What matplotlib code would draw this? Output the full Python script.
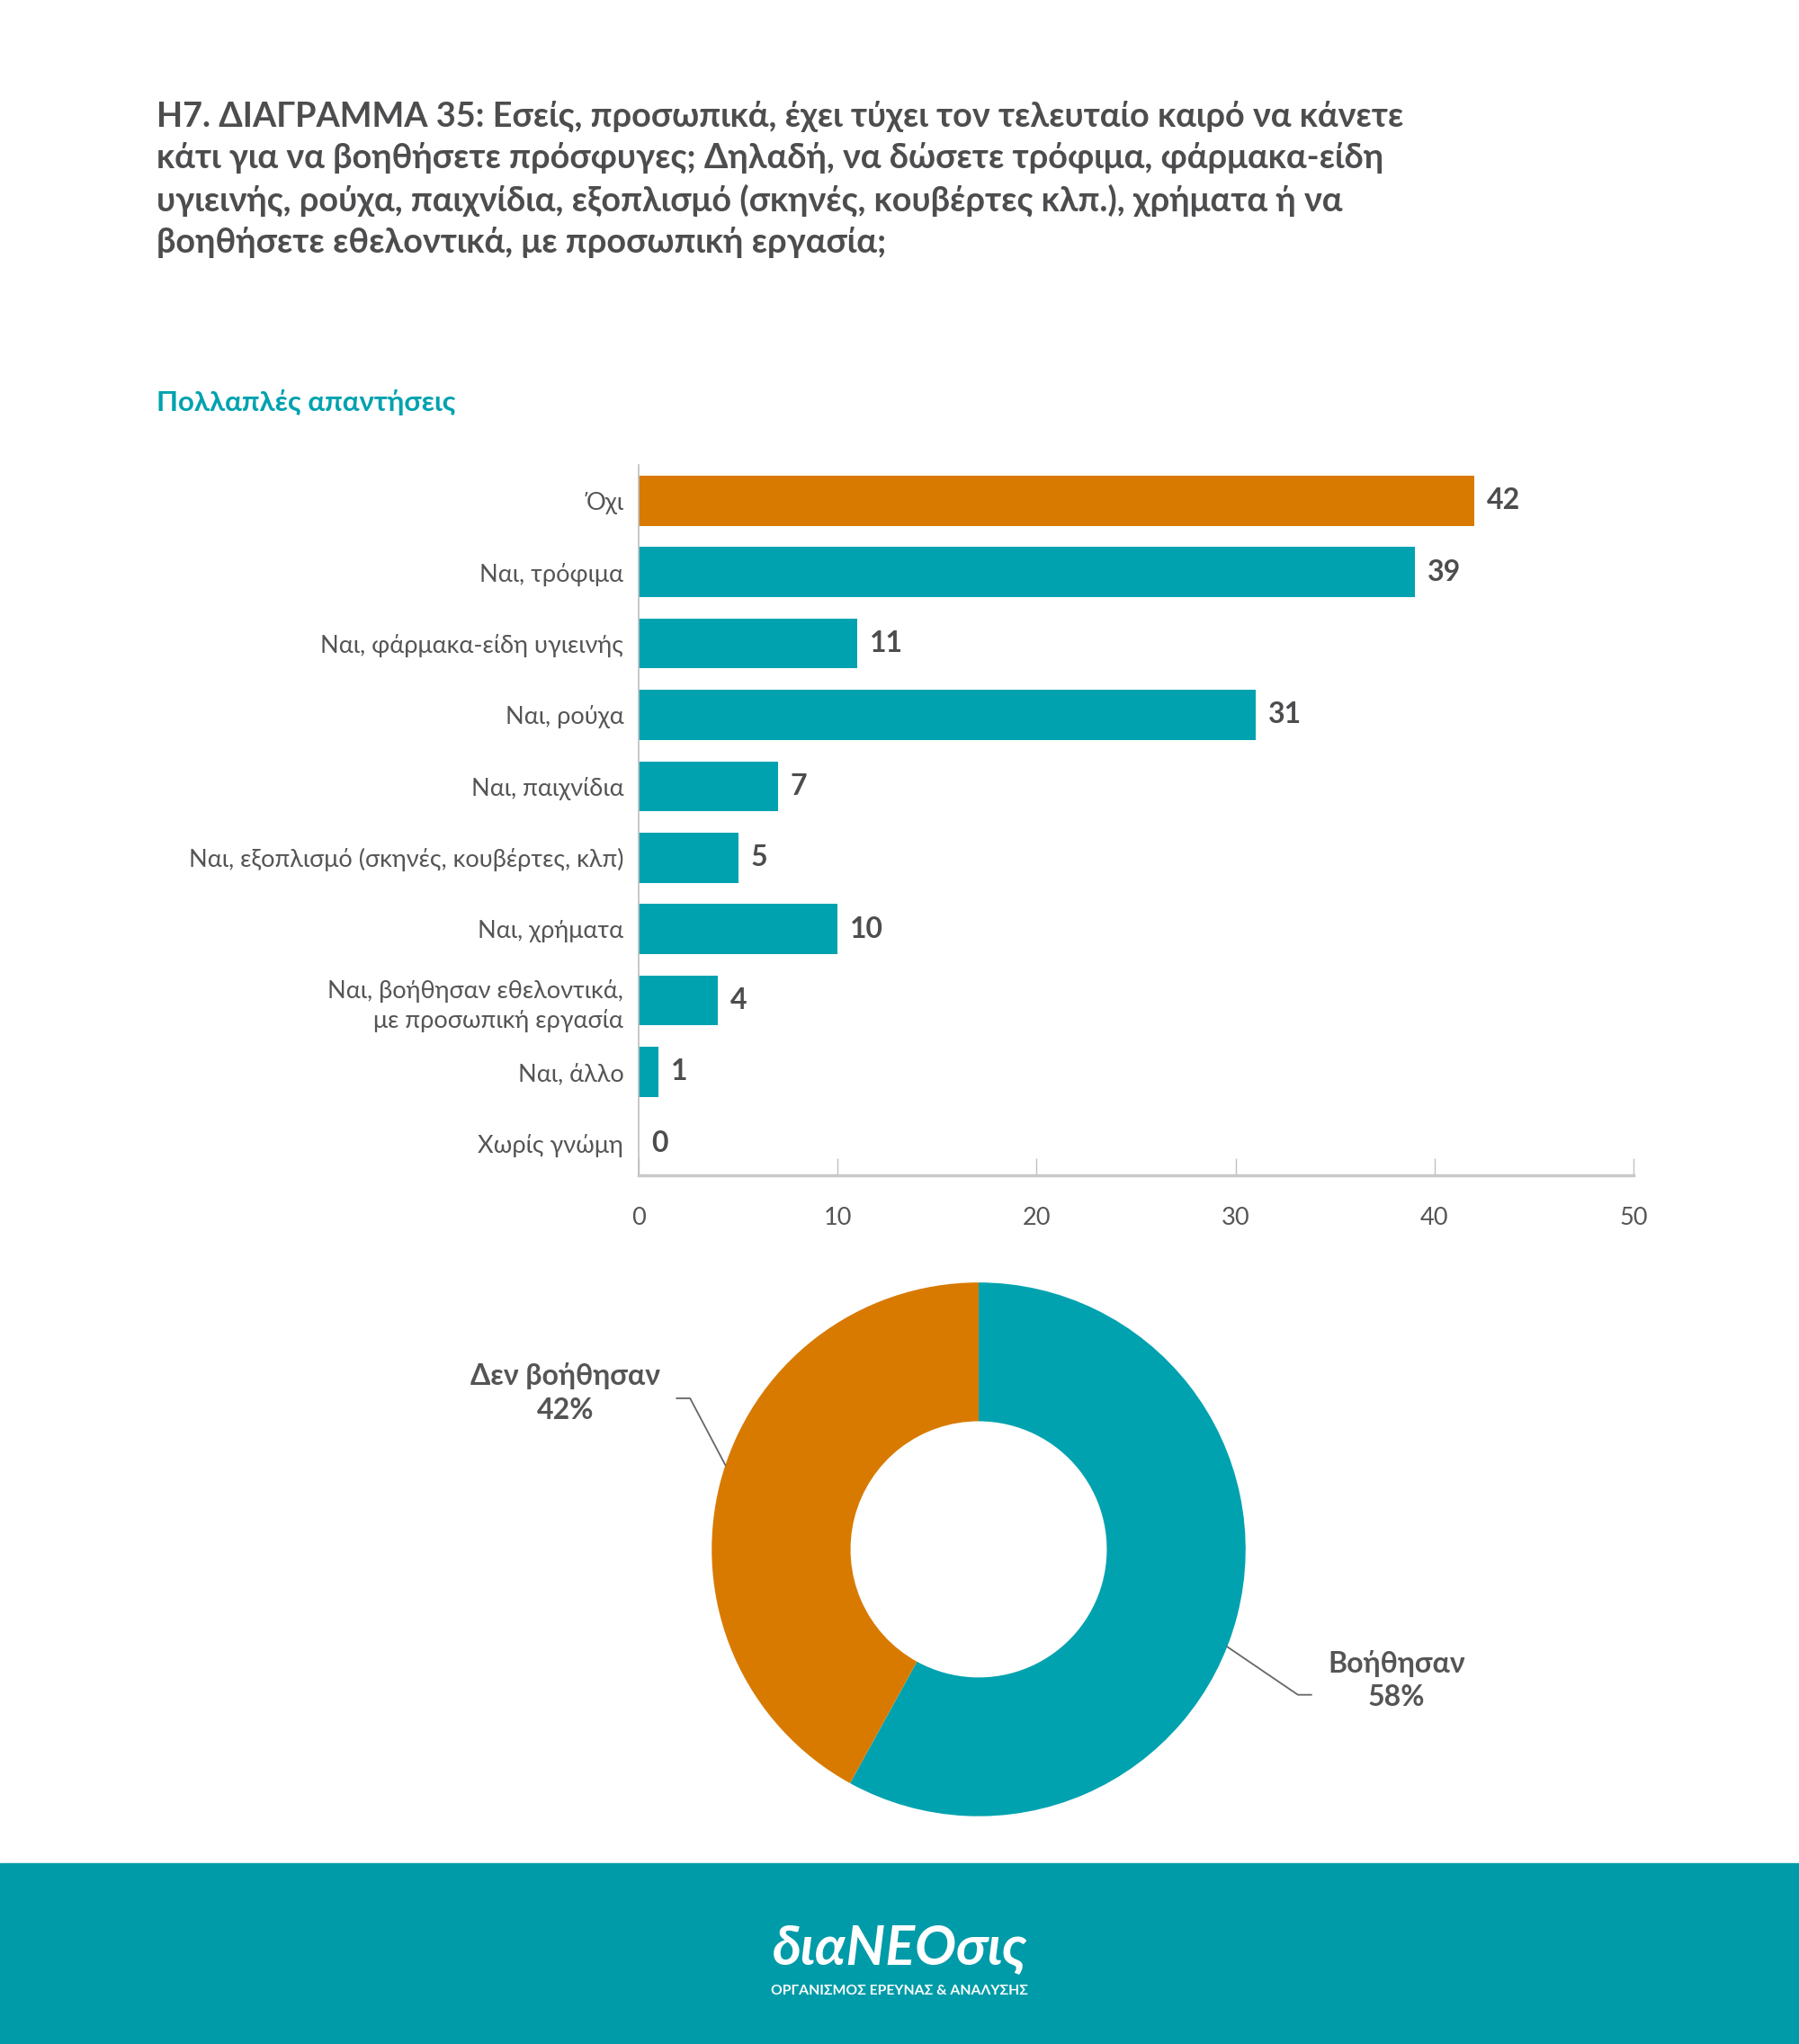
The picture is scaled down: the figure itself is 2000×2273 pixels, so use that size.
import matplotlib
matplotlib.use("Agg")
import matplotlib.pyplot as plt
import numpy as np

FONT = ["Lato", "DejaVu Sans"]
plt.rcParams["font.family"] = FONT

# Data
categories = ["Όχι", "Ναι, τρόφιμα", "Ναι, φάρμακα-είδη υγιεινής", "Ναι, ρούχα",
              "Ναι, παιχνίδια", "Ναι, εξοπλισμό (σκηνές, κουβέρτες, κλπ)",
              "Ναι, χρήματα", "Ναι, βοήθησαν εθελοντικά,\nμε προσωπική εργασία",
              "Ναι, άλλο", "Χωρίς γνώμη"]
values = [42, 39, 11, 31, 7, 5, 10, 4, 1, 0]
x_ticks = [0, 10, 20, 30, 40, 50]

donut_labels = ["Βοήθησαν", "Δεν βοήθησαν"]
donut_values = [58, 42]

title = ("Η7. ΔΙΑΓΡΑΜΜΑ 35: Εσείς, προσωπικά, έχει τύχει τον τελευταίο καιρό να κάνετε\n"
         "κάτι για να βοηθήσετε πρόσφυγες; Δηλαδή, να δώσετε τρόφιμα, φάρμακα-είδη\n"
         "υγιεινής, ρούχα, παιχνίδια, εξοπλισμό (σκηνές, κουβέρτες κλπ.), χρήματα ή να\n"
         "βοηθήσετε εθελοντικά, με προσωπική εργασία;")
subtitle = "Πολλαπλές απαντήσεις"

ORANGE = "#D87A00"
TEAL = "#00A2AF"
FOOTER = "#009BA8"
DARK = "#4d4d4f"
GREY = "#555555"

fig = plt.figure(figsize=(20, 22.73), dpi=100)

# title + subtitle
fig.text(0.087, 0.951, title, ha="left", va="top", fontsize=27.3, fontweight="bold",
         color=DARK, linespacing=1.38)
fig.text(0.087, 0.803, subtitle, ha="left", va="center", fontsize=22.5,
         fontweight="bold", color=TEAL)

# bar chart
ax = fig.add_axes([0.355, 0.425, 0.553, 0.3475])
y = np.arange(len(categories))
colors = [ORANGE] + [TEAL] * (len(categories) - 1)
ax.barh(y, values, height=0.7, color=colors)
for yi, v in zip(y, values):
    ax.annotate(str(v), (v, yi), xytext=(10, 0), textcoords="offset points",
                ha="left", va="center", fontsize=23, fontweight="bold", color=DARK)
ax.set_yticks(y)
ax.set_yticklabels(categories, fontsize=19.5, color=GREY, linespacing=1.35)
ax.set_xticks(x_ticks)
ax.set_xticklabels([str(t) for t in x_ticks], fontsize=19.5, color=GREY)
ax.set_xlim(0, 50)
ax.set_ylim(9.45, -0.5)
ax.tick_params(axis="y", length=0, pad=12)
ax.tick_params(axis="x", direction="in", length=14, width=1, color="#c0c0c0", pad=25)
for s in ["top", "right"]:
    ax.spines[s].set_visible(False)
ax.spines["left"].set_color("#bfbfbf")
ax.spines["left"].set_linewidth(1.2)
ax.spines["bottom"].set_color("#c8c8c8")
ax.spines["bottom"].set_linewidth(2.5)

# footer band
fig.patches.append(plt.Rectangle((0, 0), 1, 0.0884, transform=fig.transFigure,
                                 color=FOOTER, zorder=0))
fig.text(0.5, 0.0465, "διαΝΕΟσις", ha="center", va="center", fontsize=44,
         fontweight="bold", fontstyle="italic", color="white")
fig.text(0.5, 0.0259, "ΟΡΓΑΝΙΣΜΟΣ ΕΡΕΥΝΑΣ & ΑΝΑΛΥΣΗΣ", ha="center", va="center",
         fontsize=11.3, fontweight="bold", color="white")

# donut
ax2 = fig.add_axes([0.3585, 0.0788, 0.371, 0.3264])
wedges, _ = ax2.pie(donut_values, colors=[TEAL, ORANGE], startangle=90,
                    counterclock=False, radius=1.0,
                    wedgeprops=dict(width=0.52, linewidth=0))
ax2.set_xlim(-1.25, 1.25)
ax2.set_ylim(-1.25, 1.25)
ax2.set_aspect("equal")
ax2.axis("off")

label_pos = [(1.566, -0.49), (-1.549, 0.586)]
line_gap = [0.32, 0.418]
for w, lab, val, (lx, ly), gap in zip(wedges, donut_labels, donut_values,
                                      label_pos, line_gap):
    ang = np.deg2rad((w.theta1 + w.theta2) / 2 + (-7 if lx > 0 else -4))
    px, py = np.cos(ang), np.sin(ang)
    side = 1 if lx > 0 else -1
    ey = ly - 0.055 if lx > 0 else ly - 0.02
    ex = lx - side * gap
    elbow = ex - side * 0.05
    ax2.plot([px, elbow, ex], [py, ey, ey], color="#666666", lw=1.3,
             clip_on=False)
    ax2.text(lx, ly, f"{lab}\n{val}%", ha="center", va="center", fontsize=23,
             fontweight="bold", color=GREY, linespacing=1.35, clip_on=False)

fig.savefig("out.png", dpi=100)
